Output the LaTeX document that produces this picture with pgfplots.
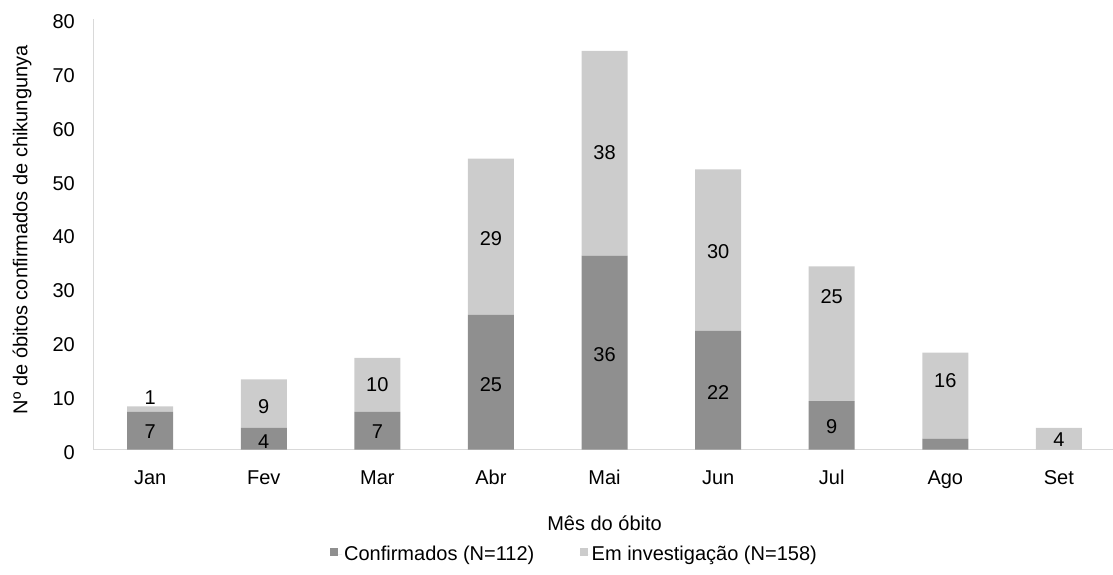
\documentclass[border=0pt]{standalone}
\usepackage{pgfplots}
\usepackage{pgfplotstable}
\pgfplotsset{compat=1.18}
\usepackage{fontspec}
\setmainfont{Liberation Sans}
\definecolor{conf}{HTML}{8F8F8F}
\definecolor{inv}{HTML}{CCCCCC}
\definecolor{axisgray}{HTML}{D9D9D9}
\pgfplotstableread{
x conf inv
0 7 1
1 4 9
2 7 10
3 25 29
4 36 38
5 22 30
6 9 25
7 2 16
8 0 4
}\data
\begin{document}
\fontsize{20}{24}\selectfont
\begin{tikzpicture}
\useasboundingbox (-93.4pt,-125.5pt) rectangle (1019.6pt,449.5pt);
\begin{axis}[
  at={(0pt,0pt)}, anchor=south west,
  scale only axis, width=1022.4pt, height=431pt,
  xmin=-0.5, xmax=8.5, ymin=0, ymax=80,
  ybar stacked, bar width=46pt,
  axis lines*=left,
  axis line style={-, draw=axisgray, line width=1.3pt},
  ytick={0,10,...,80}, xtick={0,...,8},
  xticklabels={Jan,Fev,Mar,Abr,Mai,Jun,Jul,Ago,Set},
  major tick length=0pt,
  tick label style={font=\fontsize{20}{24}\selectfont, text=black},
  yticklabel style={anchor=east, inner sep=0pt, xshift=-18.4pt, yshift=-3pt},
  xticklabel style={anchor=base, inner sep=0pt, yshift=-34.5pt},
  /pgf/number format/assume math mode=true,
  xlabel={Mês do óbito},
  xlabel style={at={([yshift=-80.5pt]axis description cs:0.5,0)}, anchor=base, inner sep=0pt, font=\fontsize{20}{24}\selectfont},
  ylabel={Nº de óbitos confirmados de chikungunya},
  ylabel style={at={([xshift=-66pt]axis description cs:0,0.51)}, anchor=base, inner sep=0pt, rotate=0, font=\fontsize{20}{24}\selectfont},
  legend columns=2,
  legend style={draw=none, fill=none, at={(0.2314,-0.2444)}, anchor=west, inner sep=0pt,
    font=\fontsize{20}{24}\selectfont,
    /tikz/every even column/.append style={column sep=43.3pt}},
]
\addplot[fill=conf, draw=none, legend image code/.code={\fill[conf] (0pt,-1pt) rectangle (8pt,7pt); \path (0pt,0pt) -- (12pt,0pt);}] table[x=x,y=conf]{\data};
\addlegendentry{Confirmados (N=112)}
\addplot[fill=inv, draw=none, legend image code/.code={\fill[inv] (0pt,-1pt) rectangle (8pt,7pt); \path (0pt,0pt) -- (10pt,0pt);}] table[x=x,y=inv]{\data};
\addlegendentry{Em investigação (N=158)}
\end{axis}
\begin{axis}[
  at={(0pt,0pt)}, anchor=south west,
  scale only axis, width=1022.4pt, height=431pt,
  xmin=-0.5, xmax=8.5, ymin=0, ymax=80,
  hide axis, clip=false]
\addplot[draw=none, mark=none, nodes near coords, point meta=explicit symbolic,
  every node near coord/.style={anchor=center, inner sep=0pt, text=black, font=\fontsize{20}{24}\selectfont}]
  coordinates {
  (0,3.3)[7] (1,1.5)[4] (2,3.3)[7] (3,12.1)[25] (4,17.7)[36] (5,10.6)[22] (6,4.2)[9]
  (0,9.6)[1] (1,7.9)[9] (2,12)[10] (3,39.1)[29] (4,55.1)[38] (5,36.7)[30] (6,28.4)[25] (7,12.7)[16] (8,1.8)[4]
  };
\end{axis}
\end{tikzpicture}
\end{document}
